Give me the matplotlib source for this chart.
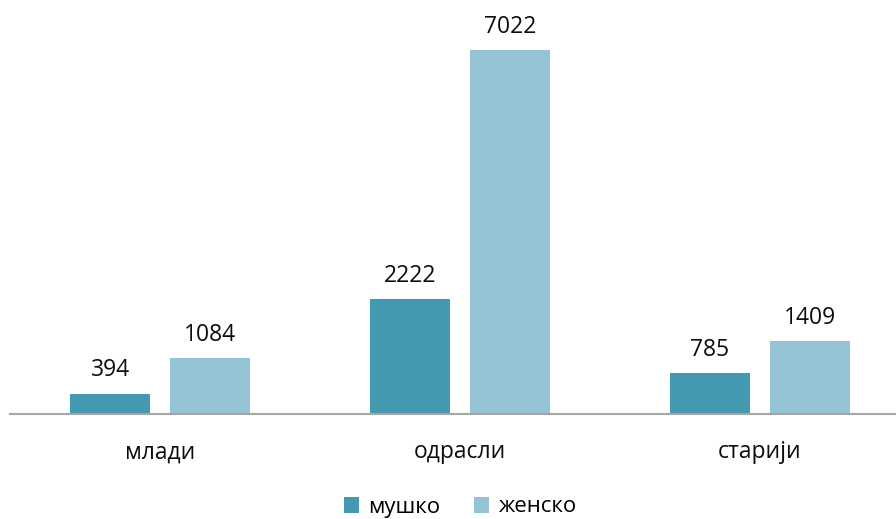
import numpy as np
import matplotlib.pyplot as plt

plt.rcParams['font.family'] = ['Open Sans', 'DejaVu Sans']

categories = ['млади', 'одрасли', 'старији']
male = [394, 2222, 785]
female = [1084, 7022, 1409]
series_names = ['мушко', 'женско']
colors = ['#4399B0', '#93C3D5']

fig = plt.figure(figsize=(8.96, 5.19), dpi=100)
# axes spans past the right edge, like the cropped original
ax = fig.add_axes([10 / 896, 1 - 414 / 519, 900 / 896, 364 / 519])

x = np.arange(len(categories))
w = 80 / 300
off = 50 / 300
b1 = ax.bar(x - off, male, w, color=colors[0], label=series_names[0])
b2 = ax.bar(x + off, female, w, color=colors[1], label=series_names[1])

for bars, vals in [(b1, male), (b2, female)]:
    for rect, v in zip(bars, vals):
        ax.annotate(str(v), (rect.get_x() + rect.get_width() / 2, v),
                    xytext=(0, 8), textcoords='offset points',
                    ha='center', va='bottom', fontsize=16.5, color='#0d0d0d')

ax.set_xlim(-0.5, 2.5)
ax.set_ylim(0, max(female))
ax.set_xticks(x)
ax.set_xticklabels(categories, fontsize=16.5, color='#0d0d0d')
ax.tick_params(axis='x', length=0, pad=19)
ax.set_yticks([])
for s in ['top', 'right', 'left']:
    ax.spines[s].set_visible(False)
ax.spines['bottom'].set_color('#a6a6a6')
ax.spines['bottom'].set_linewidth(1.5)

fig.legend(loc='center', bbox_to_anchor=(460 / 896, 1 - 507 / 519), ncol=2,
           frameon=False, fontsize=16, handlelength=0.7, handleheight=0.7,
           handletextpad=0.4, columnspacing=1.5)

fig.savefig('out.png', dpi=100)
